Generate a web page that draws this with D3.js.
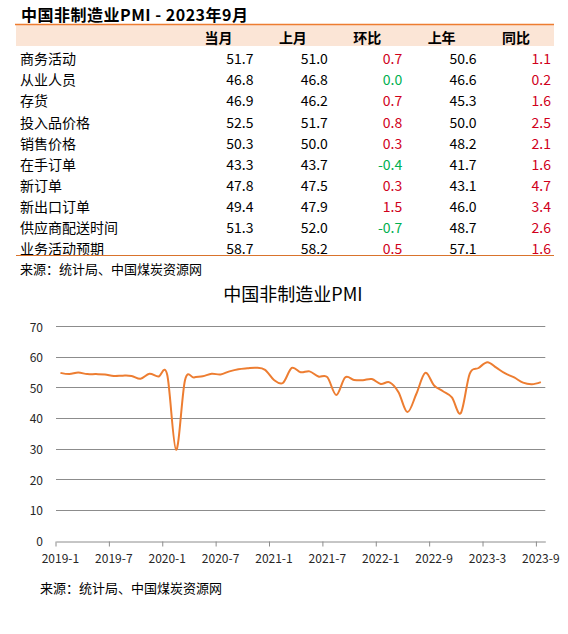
<!DOCTYPE html>
<html>
<head>
<meta charset="utf-8">
<script src="https://cdn.jsdelivr.net/npm/d3@7"></script>
<style>
  body { margin: 0; background: #fff; }
  text { font-family: "Noto Sans CJK SC", "Noto Sans", sans-serif; }
</style>
</head>
<body>
<svg id="chart"></svg>
<script>
// table data
const tableTitle = "中国非制造业PMI - 2023年9月";
const columns = ["当月", "上月", "环比", "上年", "同比"];
const rowNames = ["商务活动", "从业人员", "存货", "投入品价格", "销售价格", "在手订单", "新订单", "新出口订单", "供应商配送时间", "业务活动预期"];
const thisMonth = [51.7, 46.8, 46.9, 52.5, 50.3, 43.3, 47.8, 49.4, 51.3, 58.7];
const lastMonth = [51.0, 46.8, 46.2, 51.7, 50.0, 43.7, 47.5, 47.9, 52.0, 58.2];
const momChange = [0.7, 0.0, 0.7, 0.8, 0.3, -0.4, 0.3, 1.5, -0.7, 0.5];
const lastYear = [50.6, 46.6, 45.3, 50.0, 48.2, 41.7, 43.1, 46.0, 48.7, 57.1];
const yoyChange = [1.1, 0.2, 1.6, 2.5, 2.1, 1.6, 4.7, 3.4, 2.6, 1.6];
const sourceText = "来源：统计局、中国煤炭资源网";

// line chart data (non-manufacturing PMI, business activity)
const chartTitle = "中国非制造业PMI";
const months = [
  "2019-1","2019-2","2019-3","2019-4","2019-5","2019-6","2019-7","2019-8","2019-9","2019-10","2019-11","2019-12",
  "2020-1","2020-2","2020-3","2020-4","2020-5","2020-6","2020-7","2020-8","2020-9","2020-10","2020-11","2020-12",
  "2021-1","2021-2","2021-3","2021-4","2021-5","2021-6","2021-7","2021-8","2021-9","2021-10","2021-11","2021-12",
  "2022-1","2022-2","2022-3","2022-4","2022-5","2022-6","2022-9","2022-10","2022-11","2022-12",
  "2023-1","2023-2","2023-3","2023-4","2023-5","2023-6","2023-7","2023-8","2023-9"
];
const pmi = [
  54.7, 54.3, 54.8, 54.3, 54.3, 54.2, 53.7, 53.8, 53.7, 52.8, 54.4, 53.5,
  54.1, 29.6, 52.3, 53.2, 53.6, 54.4, 54.2, 55.2, 55.9, 56.2, 56.4, 55.7,
  52.4, 51.4, 56.3, 54.9, 55.2, 53.5, 53.3, 47.5, 53.2, 52.4, 52.3, 52.7,
  51.1, 51.6, 48.4, 41.9, 47.8, 54.7, 50.6, 48.7, 46.7, 41.6,
  54.4, 56.3, 58.2, 56.4, 54.5, 53.2, 51.5, 51.0, 51.7
];
const xTickLabels = ["2019-1","2019-7","2020-1","2020-7","2021-1","2021-7","2022-1","2022-9","2023-3","2023-9"];
const yTicks = [0, 10, 20, 30, 40, 50, 60, 70];

const W = 568, H = 634;
const svg = d3.select("#chart").attr("width", W).attr("height", H);

const orange = "#ED7D31";
const red = "#D0001B", green = "#00B050";

// ---------- table ----------
svg.append("text")
  .attr("x", 21).attr("y", 14)
  .attr("dominant-baseline", "central")
  .style("font-size", "16px").style("font-weight", "bold")
  .style("letter-spacing", "0.5px")
  .attr("fill", "#000")
  .text(tableTitle);

svg.append("rect")
  .attr("x", 16).attr("y", 25).attr("width", 538).attr("height", 21)
  .attr("fill", "#FBE5D6");

svg.append("line")
  .attr("x1", 15).attr("x2", 554).attr("y1", 24.5).attr("y2", 24.5)
  .attr("stroke", orange).attr("stroke-width", 1.5);

const colX = d3.scalePoint().domain(columns).range([253.5, 551]);
const rowY = d3.scalePoint().domain(rowNames).range([58.3, 248]);

svg.selectAll(".colhead").data(columns).enter().append("text")
  .attr("class", "colhead")
  .attr("x", d => colX(d) - 35).attr("y", 37)
  .attr("text-anchor", "middle").attr("dominant-baseline", "central")
  .style("font-size", "14px").style("font-weight", "bold")
  .text(d => d);

svg.selectAll(".rowname").data(rowNames).enter().append("text")
  .attr("class", "rowname")
  .attr("x", 20).attr("y", d => rowY(d))
  .attr("dominant-baseline", "central")
  .style("font-size", "14px")
  .text(d => d);

const colData = [thisMonth, lastMonth, momChange, lastYear, yoyChange];
colData.forEach((vals, ci) => {
  const isChange = ci === 2 || ci === 4;
  svg.selectAll(".c" + ci).data(vals).enter().append("text")
    .attr("class", "c" + ci)
    .attr("x", colX(columns[ci]))
    .attr("y", (d, i) => rowY(rowNames[i]))
    .attr("text-anchor", "end").attr("dominant-baseline", "central")
    .style("font-size", "14px")
    .attr("fill", d => !isChange ? "#000" : (d > 0 ? red : green))
    .text(d => d.toFixed(1));
});

svg.append("line")
  .attr("x1", 16).attr("x2", 554).attr("y1", 255.5).attr("y2", 255.5)
  .attr("stroke", "#D9732C").attr("stroke-width", 1.2);

svg.append("text")
  .attr("x", 20).attr("y", 268)
  .attr("dominant-baseline", "central")
  .style("font-size", "13px")
  .text(sourceText);

// ---------- line chart ----------
const x = d3.scaleBand().domain(months).range([56, 545.3]).padding(0);
const y = d3.scaleLinear().domain([0, 70]).range([540.5, 326]);

svg.append("text")
  .attr("x", 293).attr("y", 293)
  .attr("text-anchor", "middle").attr("dominant-baseline", "central")
  .style("font-size", "18px")
  .text(chartTitle);

svg.append("g")
  .selectAll("line").data(yTicks.filter(d => d > 0)).enter().append("line")
  .attr("x1", 56).attr("x2", 545.3)
  .attr("y1", d => Math.round(y(d)) + 0.5).attr("y2", d => Math.round(y(d)) + 0.5)
  .attr("stroke", "#8C8C8C").attr("stroke-width", 1);

svg.append("g")
  .selectAll("text").data(yTicks).enter().append("text")
  .attr("x", 43).attr("y", d => y(d))
  .attr("text-anchor", "end").attr("dominant-baseline", "central")
  .style("font-size", "12px").attr("fill", "#262626")
  .text(d => d);

const xAxis = svg.append("g")
  .attr("transform", `translate(0,${Math.round(y(0)) + 0.5})`)
  .call(d3.axisBottom(x).tickValues(xTickLabels).tickSize(5).tickSizeOuter(0).tickPadding(8));
xAxis.select(".domain").attr("stroke", "#8C8C8C");
xAxis.selectAll(".tick line")
  .attr("stroke", "#8C8C8C")
  .attr("x1", -x.bandwidth() / 2).attr("x2", -x.bandwidth() / 2);
xAxis.selectAll(".tick text")
  .style("font-size", "12px")
  .style("font-family", "'Noto Sans CJK SC', 'Noto Sans', sans-serif")
  .attr("fill", "#262626");

const line = d3.line()
  .x((d, i) => x(months[i]) + x.bandwidth() / 2)
  .y(d => y(d))
  .curve(d3.curveCatmullRom.alpha(0));

svg.append("path")
  .datum(pmi)
  .attr("d", line)
  .attr("fill", "none")
  .attr("stroke", orange)
  .attr("stroke-width", 2)
  .attr("stroke-linejoin", "round");

svg.append("text")
  .attr("x", 40).attr("y", 587)
  .attr("dominant-baseline", "central")
  .style("font-size", "13px")
  .text(sourceText);
</script>
</body>
</html>
